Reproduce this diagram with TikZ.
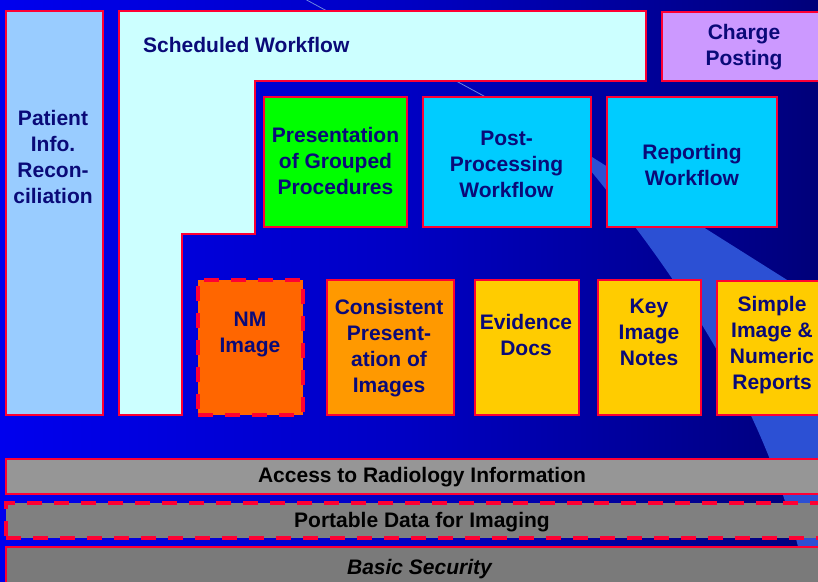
\documentclass[tikz,border=0pt]{standalone}
\usepackage{fontspec}
\setmainfont{Liberation Sans}
\usetikzlibrary{positioning}

\definecolor{bgA}{RGB}{0,0,238}
\definecolor{bgB}{RGB}{0,0,195}
\definecolor{bgC}{RGB}{0,0,128}
\definecolor{bgD}{RGB}{0,0,52}
\definecolor{bgE}{RGB}{0,0,40}
\definecolor{streakc}{RGB}{44,80,212}
\definecolor{redc}{RGB}{255,0,51}
\definecolor{txtc}{RGB}{10,10,120}
\definecolor{pirc}{RGB}{153,204,255}
\definecolor{swfc}{RGB}{204,255,255}
\definecolor{chgc}{RGB}{204,153,255}
\definecolor{pgpc}{RGB}{0,255,0}
\definecolor{cyanc}{RGB}{0,204,255}
\definecolor{nmic}{RGB}{255,102,0}
\definecolor{cpic}{RGB}{255,153,0}
\definecolor{yelc}{RGB}{255,204,0}
\definecolor{aric}{RGB}{150,150,150}
\definecolor{pdic}{RGB}{128,128,128}
\definecolor{bscc}{RGB}{122,122,122}

\pgfdeclarehorizontalshading{bgshade}{100bp}{color(0bp)=(bgA); color(25bp)=(bgA);
  color(50bp)=(bgB); color(73bp)=(bgC); color(93bp)=(bgD); color(100bp)=(bgE)}

\tikzset{
  box/.style={draw=redc, line width=2.5pt, inner sep=0pt, outer sep=0pt},
  dashbox/.style={box, line width=3.5pt, dash pattern=on 15pt off 12pt},
  lbl/.style={font=\fontsize{21}{26}\selectfont\bfseries, text=txtc, align=center, inner sep=0pt},
  barlbl/.style={font=\fontsize{21}{26}\selectfont\bfseries, text=black, inner sep=0pt, anchor=base}
}

\begin{document}
\begin{tikzpicture}[x=1pt,y=-1pt]
\useasboundingbox (0,0) rectangle (818,581);
\clip (0,0) rectangle (818,581);
% background
\fill[shading=bgshade] (0,0) rectangle (818,581);
\fill[streakc] (565,140) -- (830,307) -- (830,590) -- (807,590)
  .. controls (775,400) and (650,240) .. (565,140) -- cycle;
\draw[streakc!70!white, line width=0.8pt] (303,-2) -- (565,140);

% left column and scheduled workflow
\node[box, fill=pirc, minimum width=97, minimum height=404] (pir) at (54.5,213) {};
\draw[box, fill=swfc] (119,11) -- (646,11) -- (646,81) -- (255,81) -- (255,234)
  -- (182,234) -- (182,415) -- (119,415) -- cycle;
\node[box, fill=chgc, minimum width=166, minimum height=69] (chg) at (745,46.5) {};

% upper row
\node[box, fill=pgpc, minimum width=143, minimum height=130] (pgp) at (335.5,162) {};
\node[box, fill=cyanc, minimum width=168, minimum height=130] (ppw) at (507,162) {};
\node[box, fill=cyanc, minimum width=170, minimum height=130] (rwf) at (692,162) {};

% lower row
\node[dashbox, fill=nmic, minimum width=105, minimum height=135] (nmi) at (250.5,347.5) {};
\node[box, fill=cpic, minimum width=127, minimum height=135] (cpi) at (390.5,347.5) {};
\node[box, fill=yelc, minimum width=104, minimum height=135] (evd) at (527,347.5) {};
\node[box, fill=yelc, minimum width=103, minimum height=135] (kin) at (649.5,347.5) {};
\node[box, fill=yelc, minimum width=113, minimum height=134] (sin) at (773.5,348) {};

% bottom bars
\node[box, fill=aric, minimum width=824, minimum height=35] (ari) at (418,476.5) {};
\node[dashbox, fill=pdic, minimum width=824, minimum height=35] (pdi) at (418,520.5) {};
\node[box, fill=bscc, minimum width=824, minimum height=48] (bsc) at (418,571) {};

% texts
\node[lbl] (pir-t) at (53,157) {Patient\\Info.\\Recon-\\ciliation};
\node[lbl, anchor=base west] (swf-t) at (143,52) {Scheduled Workflow};
\node[lbl] (chg-t) at (744,47) {Charge\\Posting};
\node[lbl] (pgp-t) at (335.5,161) {Presentation\\of Grouped\\Procedures};
\node[lbl] (ppw-t) at (506.5,164) {Post-\\Processing\\Workflow};
\node[lbl] (rwf-t) at (692,165) {Reporting\\Workflow};
\node[lbl] (nmi-t) at (250,334.5) {NM\\Image};
\node[lbl] (cpi-t) at (389,348.5) {Consistent\\Present-\\ation of\\Images};
\node[lbl] (evd-t) at (526,335) {Evidence\\Docs};
\node[lbl] (kin-t) at (649,332) {Key\\Image\\Notes};
\node[lbl] (sin-t) at (772,345.5) {Simple\\Image \&\\Numeric\\Reports};
\node[barlbl] (ari-t) at (422,482) {Access to Radiology Information};
\node[barlbl] (pdi-t) at (422,527) {Portable Data for Imaging};
\node[barlbl, font=\fontsize{21}{26}\selectfont\bfseries\itshape] (bsc-t) at (419.5,574) {Basic Security};
\end{tikzpicture}
\end{document}
